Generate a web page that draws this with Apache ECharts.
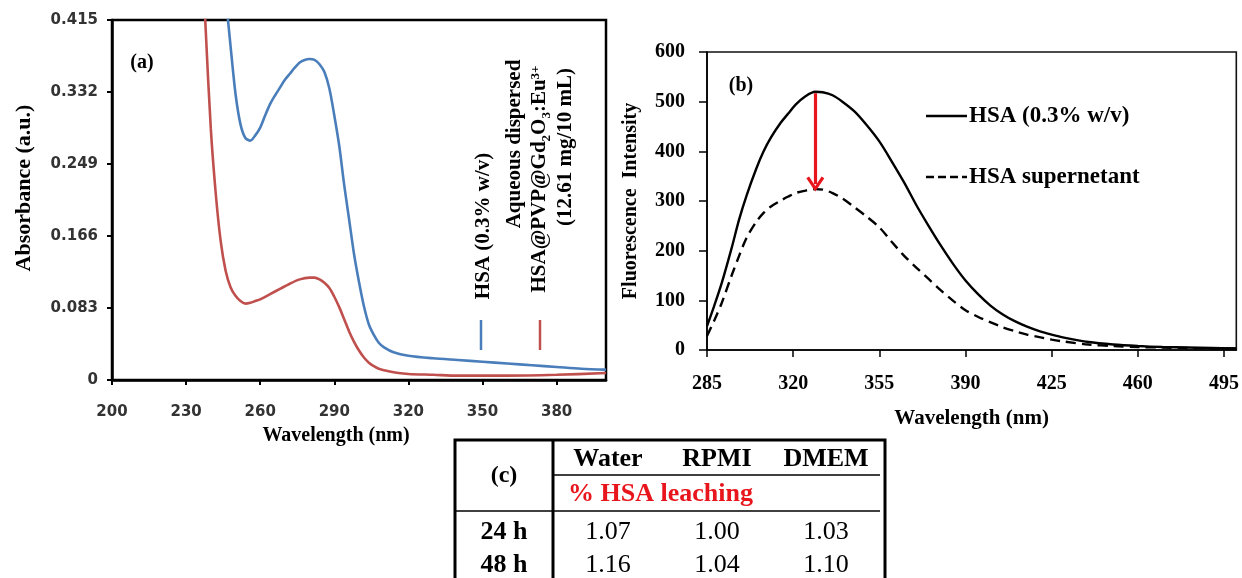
<!DOCTYPE html>
<html><head><meta charset="utf-8">
<script src="https://cdn.jsdelivr.net/npm/echarts@6/dist/echarts.min.js"></script>
<style>html,body{margin:0;padding:0;background:#fff}#c{width:1242px;height:578px}</style>
</head><body><div id="c"></div>
<script>
// ---------- Panel (a): UV-Vis absorbance ----------
const absHSAWl  = [244,246,248,250,252,254,256,258,260,262,264,266,268,270,272,274,276,278,280,282,284,286,288,290,292,294,296,298,300,302,304,306,308,310,314,320,330,340,350,360,370,380,390,400];
const absHSAVal = [0.52,0.445,0.385,0.33,0.295,0.279,0.276,0.282,0.291,0.305,0.318,0.328,0.337,0.346,0.353,0.36,0.366,0.369,0.370,0.369,0.364,0.355,0.336,0.305,0.27,0.225,0.185,0.145,0.113,0.085,0.064,0.052,0.043,0.038,0.032,0.028,0.025,0.023,0.021,0.019,0.017,0.015,0.013,0.012];
const absNPWl   = [236,238,240,242,244,246,248,250,252,254,256,258,260,264,268,272,276,280,282,284,286,288,290,292,294,296,298,300,302,304,306,308,312,316,320,330,340,360,380,400];
const absNPVal  = [0.52,0.40,0.29,0.215,0.16,0.126,0.107,0.097,0.091,0.088,0.089,0.091,0.093,0.099,0.105,0.111,0.116,0.118,0.118,0.116,0.112,0.106,0.096,0.084,0.07,0.056,0.044,0.034,0.026,0.02,0.016,0.013,0.01,0.008,0.007,0.006,0.005,0.005,0.006,0.008];
const absXTicks = [200,230,260,290,320,350,380];
const absYTicks = [0,0.083,0.166,0.249,0.332,0.415];

// ---------- Panel (b): fluorescence ----------
const flWl      = [285,288,291,295,298,301,305,308,311,315,318,321,325,329,332,336,340,345,350,355,360,365,370,375,380,385,390,395,400,405,410,415,420,425,430,440,450,460,470,480,490,500];
const flHSA     = [48,90,135,205,262,310,365,400,428,458,476,494,511,520,519,513,500,480,452,420,380,338,292,250,210,173,140,113,90,72,58,47,38,31,25,16,11,8,6,5,4,3];
const flSuper   = [28,60,95,150,189,225,258,276,289,301,309,316,321,324,323,316,305,287,268,247,218,190,166,143,120,99,80,67,56,46,38,31,26,21,17,11,8,6,5,4,3,3];
const flXTicks  = [285,320,355,390,425,460,495];
const flYTicks  = [0,100,200,300,400,500,600];
const arrowFrom = [329,517];
const arrowTo   = [329,334];

// ---------- Panel (c): table ----------
const tableCols = ['Water','RPMI','DMEM'];
const tableRows = ['24 h','48 h'];
const leaching  = [[1.07,1.00,1.03],[1.16,1.04,1.10]];

const zip = (a,b) => a.map((x,i)=>[x,b[i]]);
const SERIF = "'Liberation Serif','Times New Roman',serif";
const SANS = "'DejaVu Sans',sans-serif";

const chart = echarts.init(document.getElementById('c'), null, {renderer:'canvas'});

// table graphics
const colX = [608,717,826];
const rowY = [532,565];
const tableG = [];
tableG.push({type:'rect', shape:{x:455,y:440,width:430,height:160}, style:{fill:'none',stroke:'#000',lineWidth:3}});
tableG.push({type:'line', shape:{x1:553,y1:440,x2:553,y2:600}, style:{stroke:'#000',lineWidth:3}});
tableG.push({type:'line', shape:{x1:553,y1:475,x2:880,y2:475}, style:{stroke:'#000',lineWidth:1.5}});
tableG.push({type:'line', shape:{x1:455,y1:511,x2:880,y2:511}, style:{stroke:'#000',lineWidth:1.5}});
tableG.push({type:'text', x:504, y:476, style:{text:'(c)', font:'bold 24px '+SERIF, fill:'#000', align:'center', verticalAlign:'middle'}});
tableCols.forEach((c,i)=>tableG.push({type:'text', x:colX[i], y:459, style:{text:c, font:'bold 26px '+SERIF, fill:'#000', align:'center', verticalAlign:'middle'}}));
tableG.push({type:'text', x:568, y:494, style:{text:'% HSA leaching', font:'bold 26px '+SERIF, fill:'#e8161c', align:'left', verticalAlign:'middle'}});
tableRows.forEach((r,j)=>{
  tableG.push({type:'text', x:504, y:rowY[j], style:{text:r, font:'bold 26px '+SERIF, fill:'#000', align:'center', verticalAlign:'middle'}});
  leaching[j].forEach((v,i)=>tableG.push({type:'text', x:colX[i], y:rowY[j], style:{text:v.toFixed(2), font:'26px '+SERIF, fill:'#000', align:'center', verticalAlign:'middle'}}));
});

// panel (a) rotated legend, panel labels, panel (b) legend
const legG = [
  {type:'line', shape:{x1:481,y1:320,x2:481,y2:350}, style:{stroke:'#4a7ebb',lineWidth:2.5}},
  {type:'line', shape:{x1:540,y1:320,x2:540,y2:350}, style:{stroke:'#c0504d',lineWidth:2.5}},
  {type:'text', x:484, y:226, rotation:Math.PI/2, style:{text:'HSA (0.3% w/v)', font:'bold 21px '+SERIF, fill:'#000', align:'center', verticalAlign:'middle'}},
  {type:'text', x:515, y:144, rotation:Math.PI/2, style:{text:'Aqueous dispersed', font:'bold 21px '+SERIF, fill:'#000', align:'center', verticalAlign:'middle'}},
  {type:'text', x:540, y:179, rotation:Math.PI/2, style:{text:'{n|HSA@PVP@Gd}{s|2}{n|O}{s|3}{n|:Eu}{p|3+}', fill:'#000', align:'center', verticalAlign:'middle',
     rich:{n:{font:'bold 21px '+SERIF, fill:'#000', verticalAlign:'bottom'}, s:{font:'bold 13px '+SERIF, fill:'#000', verticalAlign:'bottom', padding:[0,0,-3,0]}, p:{font:'bold 13px '+SERIF, fill:'#000', verticalAlign:'top'}}}},
  {type:'text', x:566, y:147, rotation:Math.PI/2, style:{text:'(12.61 mg/10 mL)', font:'bold 21px '+SERIF, fill:'#000', align:'center', verticalAlign:'middle'}},
  {type:'text', x:142, y:63, style:{text:'(a)', font:'bold 20px '+SERIF, fill:'#000', align:'center', verticalAlign:'middle'}},
  {type:'text', x:741, y:86, style:{text:'(b)', font:'bold 20px '+SERIF, fill:'#000', align:'center', verticalAlign:'middle'}},
  {type:'line', shape:{x1:926,y1:116,x2:967,y2:116}, style:{stroke:'#000',lineWidth:2.6}},
  {type:'text', x:969, y:116, style:{text:'HSA (0.3% w/v)', font:'bold 23px '+SERIF, fill:'#000', align:'left', verticalAlign:'middle'}},
  {type:'line', shape:{x1:926,y1:177,x2:967,y2:177}, style:{stroke:'#000',lineWidth:2.6, lineDash:[8,4]}},
  {type:'text', x:969, y:177, style:{text:'HSA supernetant', font:'bold 23px '+SERIF, fill:'#000', align:'left', verticalAlign:'middle'}}
];

const option = {
  animation:false,
  backgroundColor:'#fff',
  grid:[
    {left:112, top:20, width:494, height:360, show:true, borderColor:'#000', borderWidth:2.5, containLabel:false},
    {left:707, top:52, width:530, height:298, show:true, borderColor:'#111', borderWidth:1.6, containLabel:false}
  ],
  xAxis:[
    {type:'value', gridIndex:0, min:200, max:400,
     name:'Wavelength (nm)', nameLocation:'middle', nameGap:46,
     nameTextStyle:{fontFamily:SERIF, fontWeight:'bold', fontSize:20, color:'#000', padding:[0,46,0,0]},
     axisLine:{lineStyle:{color:'#000', width:2.5}},
     axisTick:{show:true, length:5, inside:false, customValues:absXTicks, lineStyle:{color:'#000', width:2}},
     axisLabel:{customValues:absXTicks, margin:25, fontFamily:SANS, fontWeight:'bold', fontSize:15, color:'#333'},
     splitLine:{show:false}},
    {type:'value', gridIndex:1, min:285, max:500,
     name:'Wavelength (nm)', nameLocation:'middle', nameGap:58,
     nameTextStyle:{fontFamily:SERIF, fontWeight:'bold', fontSize:21, color:'#000'},
     axisLine:{lineStyle:{color:'#000', width:1.6}},
     axisTick:{show:true, length:7, inside:false, customValues:flXTicks, lineStyle:{color:'#000', width:1.5}},
     axisLabel:{customValues:flXTicks, margin:24, fontFamily:SERIF, fontWeight:'bold', fontSize:20, color:'#000'},
     splitLine:{show:false}}
  ],
  yAxis:[
    {type:'value', gridIndex:0, min:0, max:0.415,
     name:'Absorbance (a.u.)', nameLocation:'middle', nameGap:77, nameRotate:90,
     nameTextStyle:{fontFamily:SERIF, fontWeight:'bold', fontSize:22, color:'#000', padding:[0,0,0,24]},
     axisLine:{show:true, lineStyle:{color:'#000', width:2.5}},
     axisTick:{show:true, length:5, inside:false, customValues:absYTicks, lineStyle:{color:'#000', width:2}},
     axisLabel:{customValues:absYTicks, margin:14, fontFamily:SANS, fontWeight:'bold', fontSize:15, color:'#333', formatter:v=>String(+v.toFixed(3))},
     splitLine:{show:false}},
    {type:'value', gridIndex:1, min:0, max:600, interval:100,
     name:'Fluorescence  Intensity', nameLocation:'middle', nameGap:66, nameRotate:90,
     nameTextStyle:{fontFamily:SERIF, fontWeight:'bold', fontSize:20, color:'#000'},
     axisLine:{show:true, lineStyle:{color:'#000', width:1.6}},
     axisTick:{show:true, length:8, inside:false, customValues:flYTicks, lineStyle:{color:'#000', width:1.5}},
     axisLabel:{customValues:flYTicks, margin:22, fontFamily:SERIF, fontWeight:'bold', fontSize:20, color:'#000'},
     splitLine:{show:false}}
  ],
  graphic:[...legG, ...tableG],
  series:[
    {name:'HSA (0.3% w/v) absorbance', type:'line', xAxisIndex:0, yAxisIndex:0, data:zip(absHSAWl,absHSAVal), showSymbol:false, symbol:'none', smooth:0.3, clip:true,
     lineStyle:{color:'#4a7ebb', width:2.6}, itemStyle:{color:'#4a7ebb'}},
    {name:'HSA@PVP@Gd2O3:Eu3+ absorbance', type:'line', xAxisIndex:0, yAxisIndex:0, data:zip(absNPWl,absNPVal), showSymbol:false, symbol:'none', smooth:0.3, clip:true,
     lineStyle:{color:'#c0504d', width:2.6}, itemStyle:{color:'#c0504d'}},
    {name:'HSA (0.3% w/v)', type:'line', xAxisIndex:1, yAxisIndex:1, data:zip(flWl,flHSA), showSymbol:false, symbol:'none', smooth:0.3, clip:true,
     lineStyle:{color:'#000', width:2.4}, itemStyle:{color:'#000'},
     markLine:{silent:true, symbol:['none','path://M10,0 L20,17 L17,19 L10,7 L3,19 L0,17 Z'], symbolSize:[18,15], label:{show:false},
       lineStyle:{color:'#e8161c', width:3.2, type:'solid'}, itemStyle:{color:'#e8161c'},
       data:[[{coord:arrowFrom},{coord:arrowTo}]]}},
    {name:'HSA supernetant', type:'line', xAxisIndex:1, yAxisIndex:1, data:zip(flWl,flSuper), showSymbol:false, symbol:'none', smooth:0.3, clip:true,
     lineStyle:{color:'#000', width:2.4, type:[10,6]}, itemStyle:{color:'#000'}}
  ]
};
chart.setOption(option);
</script>
</body></html>
